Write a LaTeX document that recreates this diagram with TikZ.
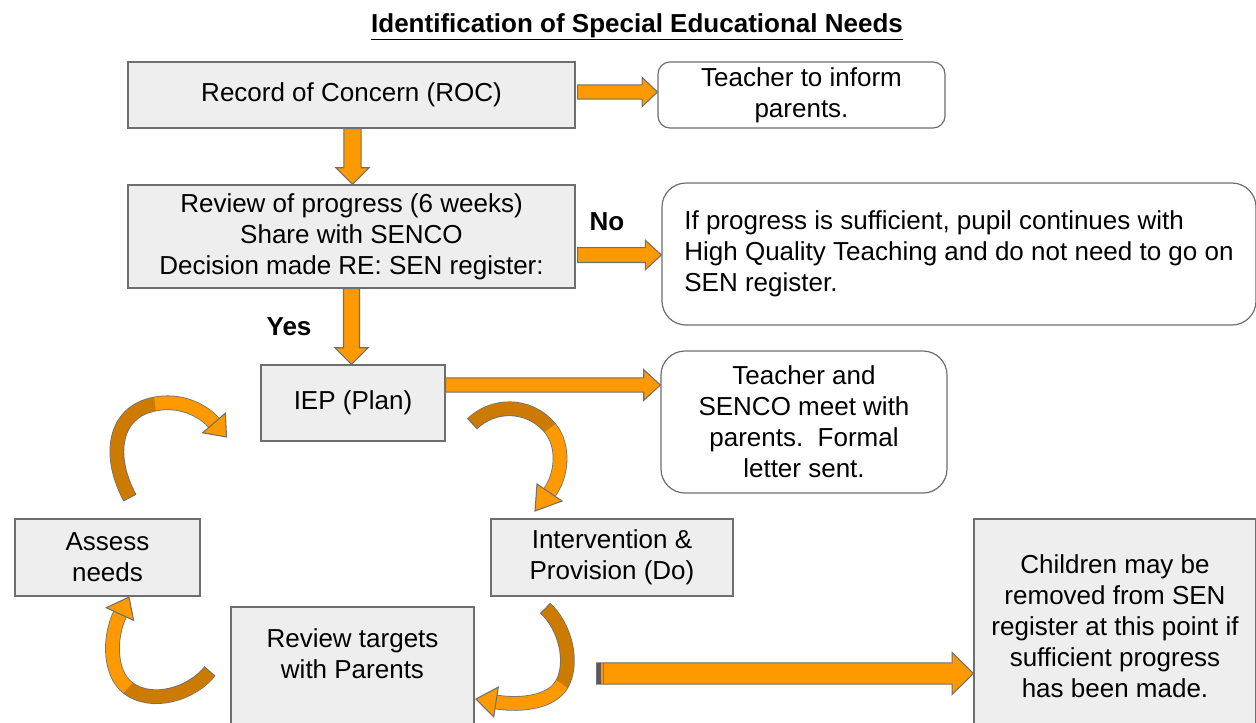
\documentclass[tikz,border=0pt]{standalone}
\usepackage{fontspec}
\setmainfont{Liberation Sans}
\usetikzlibrary{calc}
\definecolor{boxfill}{HTML}{EEEEEE}
\definecolor{boxline}{HTML}{6E6E6E}
\definecolor{arrfill}{HTML}{FF9900}
\definecolor{arrdark}{HTML}{CC7A00}
\definecolor{arrline}{HTML}{707070}
% horizontal block arrow: start, end, shaft half, head half, head length (pt)
\newcommand\hblk[5]{\path[fill=arrfill, draw=arrline, line width=0.8pt] let \p1=#1, \p2=#2 in
  (\x1,\y1+#3) -- (\x2-#5,\y1+#3) -- (\x2-#5,\y1+#4) -- (\x2,\y1) -- (\x2-#5,\y1-#4) -- (\x2-#5,\y1-#3) -- (\x1,\y1-#3) -- cycle;}
% vertical (downward) block arrow
\newcommand\vblk[5]{\path[fill=arrfill, draw=arrline, line width=0.8pt] let \p1=#1, \p2=#2 in
  (\x1+#3,\y1) -- (\x1+#3,\y2+#5) -- (\x1+#4,\y2+#5) -- (\x1,\y2) -- (\x1-#4,\y2+#5) -- (\x1-#3,\y2+#5) -- (\x1-#3,\y1) -- cycle;}
\tikzset{
  txt/.style={font=\fontsize{19.5pt}{23.25pt}\selectfont},
  box/.style={txt, draw=boxline, fill=boxfill, line width=0.9pt, align=center, inner sep=0pt},
  rbox/.style={txt, draw=boxline, fill=white, line width=0.9pt, align=center, inner sep=0pt},
  curvout/.style={draw=arrline, line width=11pt},
  curvdark/.style={draw=arrdark, line width=9.8pt},
  curvlight/.style={draw=arrfill, line width=9.8pt},
  curvhead/.style={fill=arrfill, draw=arrline, line width=0.8pt, line join=miter},
}
\begin{document}
\begin{tikzpicture}[x=0.75pt, y=-0.75pt]
\useasboundingbox (0,0) rectangle (1256,722);
\clip (0,0) rectangle (1256,722);
\fill[white] (0,0) rectangle (1256,722);

\node[txt, inner sep=0pt] (title) at (637,27) {\underline{\textbf{Identification of Special Educational Needs}}};

\node[box, minimum width=335.25pt, minimum height=49.5pt] (roc) at (351.5,95) {Record of Concern (ROC)};
\node[rbox, rounded corners=9pt, minimum width=215.25pt, minimum height=49.5pt] (tinf) at (801.5,95) {Teacher to inform\\parents.};
\node[box, minimum width=335.25pt, minimum height=77.25pt] (rev) at (351.5,236.5) {Review of progress (6 weeks)\\Share with SENCO\\Decision made RE: SEN register:};
\node[rbox, rounded corners=18pt, minimum width=445.5pt, minimum height=106.5pt, align=left] (prog) at (959,254) {If progress is sufficient, pupil continues with\\High Quality Teaching and do not need to go on\\SEN register.};
\node[box, minimum width=138pt, minimum height=57pt] (iep) at (353,403) {IEP (Plan)};
\node[rbox, rounded corners=18pt, minimum width=214.5pt, minimum height=106.5pt] (tsm) at (804,422) {Teacher and\\SENCO meet with\\parents.\ \ Formal\\letter sent.};
\node[box, minimum width=138.75pt, minimum height=57.75pt] (assess) at (107.5,557.5) {Assess\\needs};
\node[box, minimum width=181.5pt, minimum height=57.75pt] (interv) at (612,557.5) {Intervention \&\\Provision (Do)};
\node[box, minimum width=182.25pt, minimum height=99.75pt] (revt) at (352.5,673.5) {};
\node[txt, align=center, inner sep=0pt] (revtt) at (352.5,654) {Review targets\\with Parents};
\node[box, minimum width=211.5pt, minimum height=160.5pt] (child) at (1115,626) {Children may be\\removed from SEN\\register at this point if\\sufficient progress\\has been made.};

\node[txt, font=\fontsize{19.5pt}{23.25pt}\selectfont\bfseries, inner sep=0pt] (no) at (607,222) {No};
\node[txt, font=\fontsize{19.5pt}{23.25pt}\selectfont\bfseries, inner sep=0pt] (yes) at (289,327) {Yes};

% straight block arrows
\hblk{($(roc.east)+(2,-3)$)}{(tinf.west)}{5.4pt}{11pt}{11.5pt}
\hblk{($(rev.east)+(2,18.5)$)}{(prog.west)}{5.6pt}{11pt}{12pt}
\hblk{($(iep.east)+(0,-18)$)}{(tsm.west)}{5.3pt}{11.5pt}{12.5pt}
\vblk{($(roc.south)+(1,0)$)}{(rev.north)}{6.5pt}{12.5pt}{12.5pt}
\vblk{(rev.south)}{(iep.north)}{6pt}{12.5pt}{12.5pt}
\hblk{($(revt.east)+(122,0)$)}{(child.west)}{8pt}{15.75pt}{16pt}
\coordinate (ltail) at ($(revt.east)+(122,0)$);
\fill[arrline!80!black] ($(ltail)+(0,-10.5)$) rectangle ($(ltail)+(4,10.5)$);
\draw[arrline, line width=0.8pt] ($(ltail)+(7,-10.5)$) -- ($(ltail)+(7,10.5)$);

% curved arrows
% 1: Assess needs -> IEP
\draw[curvout] (130,498) .. controls (108,458) and (112,412) .. (155,404) .. controls (180,399) and (203,410) .. (214,423);
\draw[curvdark, shorten <=0.8pt] (130,498) .. controls (108,458) and (112,412) .. (155,404);
\draw[curvlight] (155,404) .. controls (180,399) and (203,410) .. (214,423);
\draw[curvhead] (225.4,413.2) -- (226.5,437) -- (202.6,432.8) -- cycle;
% 2: IEP -> Intervention
\draw[curvout] (472,424) .. controls (492,404) and (528,402) .. (550,428) .. controls (565,446) and (562,476) .. (549,493);
\draw[curvdark, shorten <=0.8pt] (472,424) .. controls (492,404) and (528,402) .. (550,428);
\draw[curvlight] (550,428) .. controls (565,446) and (562,476) .. (549,493);
\draw[curvhead] (562,501) -- (535,511) -- (537,484) -- cycle;
% 3: Review targets -> Assess needs
\draw[curvout] (210,671) .. controls (192,694) and (152,706) .. (128,688) .. controls (110,674) and (108,640) .. (120,614);
\draw[curvdark, shorten <=0.8pt] (210,671) .. controls (192,694) and (152,706) .. (128,688);
\draw[curvlight] (128,688) .. controls (110,674) and (108,640) .. (120,614);
\draw[curvhead] (133.6,620.3) -- (129,597) -- (106.4,607.7) -- cycle;
% 4: Intervention -> Review targets
\draw[curvout] (545,608) .. controls (565,626) and (574,662) .. (562,684) .. controls (552,702) and (522,706) .. (496,702);
\draw[curvdark, shorten <=0.8pt] (545,608) .. controls (565,626) and (574,662) .. (562,684);
\draw[curvlight] (562,684) .. controls (552,702) and (522,706) .. (496,702);
\draw[curvhead] (498.3,687.1) -- (476,699) -- (493.7,716.9) -- cycle;
\end{tikzpicture}
\end{document}
